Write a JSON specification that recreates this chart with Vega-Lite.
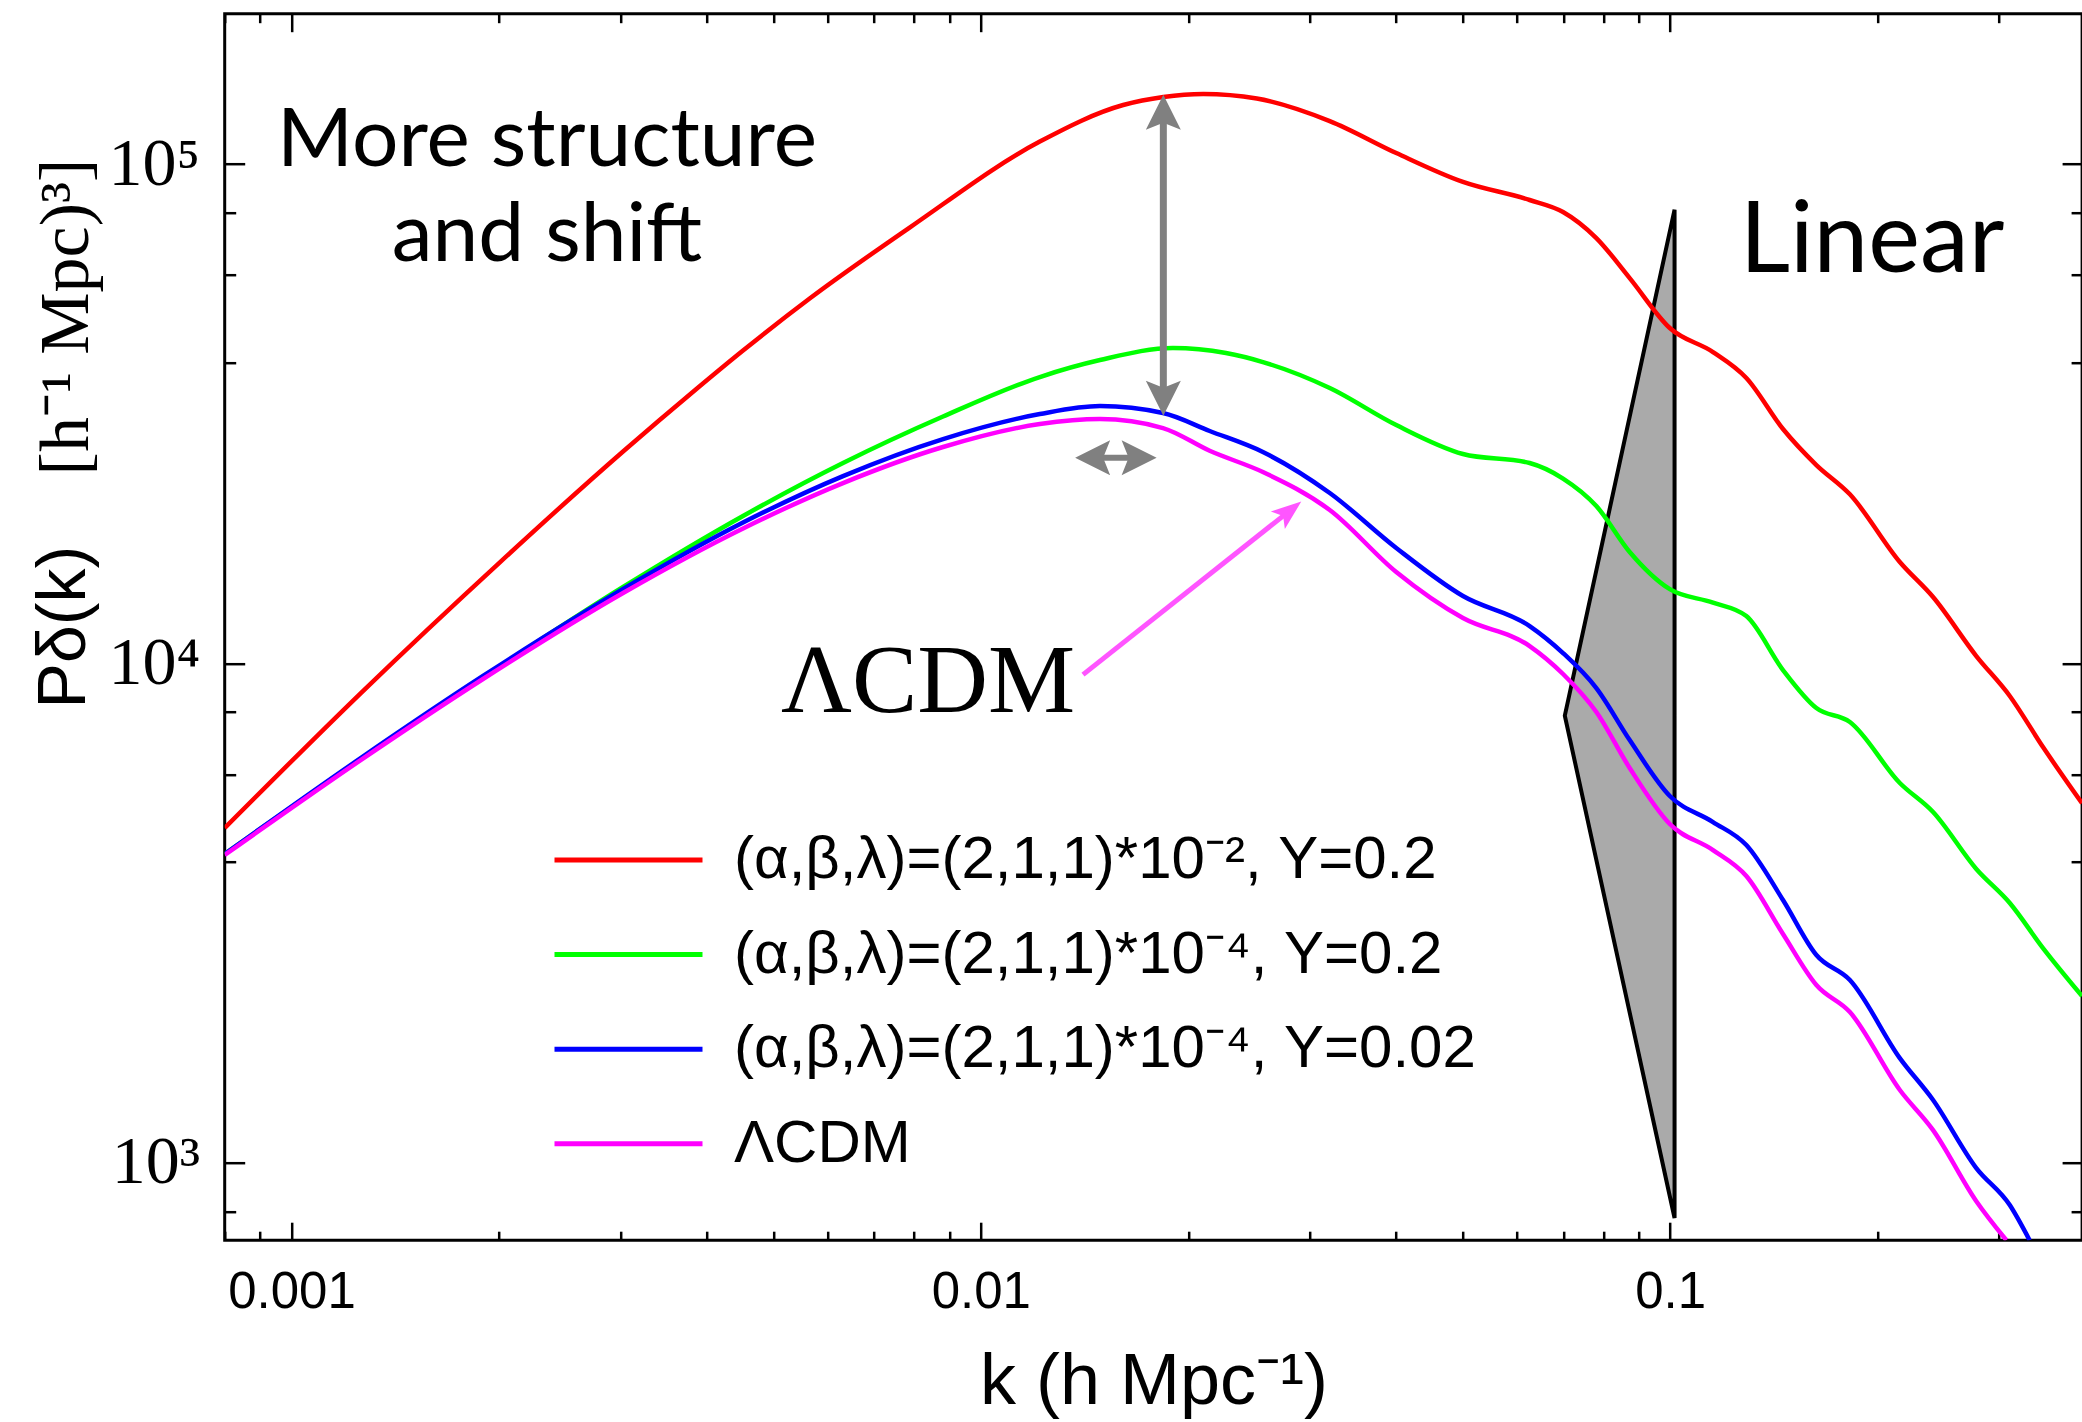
{
  "$schema": "https://vega.github.io/schema/vega-lite/v6.json",
  "width": 1857.4,
  "height": 1226.5,
  "autosize": {"type": "none"},
  "padding": {"left": 224.7, "top": 13.7, "right": 0, "bottom": 181.8},
  "background": "white",
  "config": {
    "font": "Liberation Sans",
    "view": {"stroke": "black", "strokeWidth": 3},
    "axis": {"grid": false, "domain": false, "tickColor": "black", "tickWidth": 2.5, "labelColor": "black", "titleColor": "black"}
  },
  "datasets": {
    "curves": [
      {"k": 0.0008, "P": 4682, "model": "(α,β,λ)=(2,1,1)*10⁻², Y=0.2"},
      {"k": 0.001263, "P": 8744, "model": "(α,β,λ)=(2,1,1)*10⁻², Y=0.2"},
      {"k": 0.002004, "P": 15922, "model": "(α,β,λ)=(2,1,1)*10⁻², Y=0.2"},
      {"k": 0.003027, "P": 26569, "model": "(α,β,λ)=(2,1,1)*10⁻², Y=0.2"},
      {"k": 0.003867, "P": 35441, "model": "(α,β,λ)=(2,1,1)*10⁻², Y=0.2"},
      {"k": 0.004519, "P": 42320, "model": "(α,β,λ)=(2,1,1)*10⁻², Y=0.2"},
      {"k": 0.005646, "P": 53789, "model": "(α,β,λ)=(2,1,1)*10⁻², Y=0.2"},
      {"k": 0.007884, "P": 74606, "model": "(α,β,λ)=(2,1,1)*10⁻², Y=0.2"},
      {"k": 0.01218, "P": 110920, "model": "(α,β,λ)=(2,1,1)*10⁻², Y=0.2"},
      {"k": 0.01609, "P": 131260, "model": "(α,β,λ)=(2,1,1)*10⁻², Y=0.2"},
      {"k": 0.0184, "P": 136220, "model": "(α,β,λ)=(2,1,1)*10⁻², Y=0.2"},
      {"k": 0.02103, "P": 138100, "model": "(α,β,λ)=(2,1,1)*10⁻², Y=0.2"},
      {"k": 0.02514, "P": 135260, "model": "(α,β,λ)=(2,1,1)*10⁻², Y=0.2"},
      {"k": 0.03208, "P": 121910, "model": "(α,β,λ)=(2,1,1)*10⁻², Y=0.2"},
      {"k": 0.04006, "P": 105200, "model": "(α,β,λ)=(2,1,1)*10⁻², Y=0.2"},
      {"k": 0.05006, "P": 92090, "model": "(α,β,λ)=(2,1,1)*10⁻², Y=0.2"},
      {"k": 0.06255, "P": 84720, "model": "(α,β,λ)=(2,1,1)*10⁻², Y=0.2"},
      {"k": 0.06993, "P": 80160, "model": "(α,β,λ)=(2,1,1)*10⁻², Y=0.2"},
      {"k": 0.07816, "P": 71090, "model": "(α,β,λ)=(2,1,1)*10⁻², Y=0.2"},
      {"k": 0.08737, "P": 59110, "model": "(α,β,λ)=(2,1,1)*10⁻², Y=0.2"},
      {"k": 0.0999, "P": 46950, "model": "(α,β,λ)=(2,1,1)*10⁻², Y=0.2"},
      {"k": 0.1154, "P": 42020, "model": "(α,β,λ)=(2,1,1)*10⁻², Y=0.2"},
      {"k": 0.129, "P": 37285, "model": "(α,β,λ)=(2,1,1)*10⁻², Y=0.2"},
      {"k": 0.1458, "P": 29470, "model": "(α,β,λ)=(2,1,1)*10⁻², Y=0.2"},
      {"k": 0.163, "P": 24963, "model": "(α,β,λ)=(2,1,1)*10⁻², Y=0.2"},
      {"k": 0.1823, "P": 21810, "model": "(α,β,λ)=(2,1,1)*10⁻², Y=0.2"},
      {"k": 0.2154, "P": 15959, "model": "(α,β,λ)=(2,1,1)*10⁻², Y=0.2"},
      {"k": 0.2407, "P": 13580, "model": "(α,β,λ)=(2,1,1)*10⁻², Y=0.2"},
      {"k": 0.2781, "P": 10347, "model": "(α,β,λ)=(2,1,1)*10⁻², Y=0.2"},
      {"k": 0.311, "P": 8607, "model": "(α,β,λ)=(2,1,1)*10⁻², Y=0.2"},
      {"k": 0.3475, "P": 6801, "model": "(α,β,λ)=(2,1,1)*10⁻², Y=0.2"},
      {"k": 0.3959, "P": 5248, "model": "(α,β,λ)=(2,1,1)*10⁻², Y=0.2"},

      {"k": 0.0008, "P": 4153, "model": "(α,β,λ)=(2,1,1)*10⁻⁴, Y=0.2"},
      {"k": 0.001263, "P": 6448, "model": "(α,β,λ)=(2,1,1)*10⁻⁴, Y=0.2"},
      {"k": 0.001896, "P": 9372, "model": "(α,β,λ)=(2,1,1)*10⁻⁴, Y=0.2"},
      {"k": 0.003027, "P": 14223, "model": "(α,β,λ)=(2,1,1)*10⁻⁴, Y=0.2"},
      {"k": 0.004519, "P": 19737, "model": "(α,β,λ)=(2,1,1)*10⁻⁴, Y=0.2"},
      {"k": 0.006311, "P": 25198, "model": "(α,β,λ)=(2,1,1)*10⁻⁴, Y=0.2"},
      {"k": 0.008815, "P": 31218, "model": "(α,β,λ)=(2,1,1)*10⁻⁴, Y=0.2"},
      {"k": 0.01218, "P": 37457, "model": "(α,β,λ)=(2,1,1)*10⁻⁴, Y=0.2"},
      {"k": 0.01489, "P": 40504, "model": "(α,β,λ)=(2,1,1)*10⁻⁴, Y=0.2"},
      {"k": 0.019, "P": 42812, "model": "(α,β,λ)=(2,1,1)*10⁻⁴, Y=0.2"},
      {"k": 0.02268, "P": 41830, "model": "(α,β,λ)=(2,1,1)*10⁻⁴, Y=0.2"},
      {"k": 0.02566, "P": 40130, "model": "(α,β,λ)=(2,1,1)*10⁻⁴, Y=0.2"},
      {"k": 0.03208, "P": 35605, "model": "(α,β,λ)=(2,1,1)*10⁻⁴, Y=0.2"},
      {"k": 0.04006, "P": 30013, "model": "(α,β,λ)=(2,1,1)*10⁻⁴, Y=0.2"},
      {"k": 0.05006, "P": 26265, "model": "(α,β,λ)=(2,1,1)*10⁻⁴, Y=0.2"},
      {"k": 0.06255, "P": 25198, "model": "(α,β,λ)=(2,1,1)*10⁻⁴, Y=0.2"},
      {"k": 0.06993, "P": 23456, "model": "(α,β,λ)=(2,1,1)*10⁻⁴, Y=0.2"},
      {"k": 0.07816, "P": 20664, "model": "(α,β,λ)=(2,1,1)*10⁻⁴, Y=0.2"},
      {"k": 0.08737, "P": 16717, "model": "(α,β,λ)=(2,1,1)*10⁻⁴, Y=0.2"},
      {"k": 0.0999, "P": 14081, "model": "(α,β,λ)=(2,1,1)*10⁻⁴, Y=0.2"},
      {"k": 0.1154, "P": 13236, "model": "(α,β,λ)=(2,1,1)*10⁻⁴, Y=0.2"},
      {"k": 0.129, "P": 12440, "model": "(α,β,λ)=(2,1,1)*10⁻⁴, Y=0.2"},
      {"k": 0.1458, "P": 9701, "model": "(α,β,λ)=(2,1,1)*10⁻⁴, Y=0.2"},
      {"k": 0.163, "P": 8141, "model": "(α,β,λ)=(2,1,1)*10⁻⁴, Y=0.2"},
      {"k": 0.1823, "P": 7632, "model": "(α,β,λ)=(2,1,1)*10⁻⁴, Y=0.2"},
      {"k": 0.2154, "P": 5762, "model": "(α,β,λ)=(2,1,1)*10⁻⁴, Y=0.2"},
      {"k": 0.2407, "P": 5040, "model": "(α,β,λ)=(2,1,1)*10⁻⁴, Y=0.2"},
      {"k": 0.2781, "P": 3876, "model": "(α,β,λ)=(2,1,1)*10⁻⁴, Y=0.2"},
      {"k": 0.311, "P": 3313, "model": "(α,β,λ)=(2,1,1)*10⁻⁴, Y=0.2"},
      {"k": 0.3475, "P": 2692, "model": "(α,β,λ)=(2,1,1)*10⁻⁴, Y=0.2"},
      {"k": 0.3959, "P": 2158, "model": "(α,β,λ)=(2,1,1)*10⁻⁴, Y=0.2"},

      {"k": 0.0008, "P": 4153, "model": "(α,β,λ)=(2,1,1)*10⁻⁴, Y=0.02"},
      {"k": 0.001263, "P": 6478, "model": "(α,β,λ)=(2,1,1)*10⁻⁴, Y=0.02"},
      {"k": 0.001896, "P": 9437, "model": "(α,β,λ)=(2,1,1)*10⁻⁴, Y=0.02"},
      {"k": 0.003027, "P": 14093, "model": "(α,β,λ)=(2,1,1)*10⁻⁴, Y=0.02"},
      {"k": 0.004519, "P": 19148, "model": "(α,β,λ)=(2,1,1)*10⁻⁴, Y=0.02"},
      {"k": 0.006311, "P": 23724, "model": "(α,β,λ)=(2,1,1)*10⁻⁴, Y=0.02"},
      {"k": 0.008815, "P": 28141, "model": "(α,β,λ)=(2,1,1)*10⁻⁴, Y=0.02"},
      {"k": 0.01218, "P": 31579, "model": "(α,β,λ)=(2,1,1)*10⁻⁴, Y=0.02"},
      {"k": 0.01489, "P": 32763, "model": "(α,β,λ)=(2,1,1)*10⁻⁴, Y=0.02"},
      {"k": 0.01838, "P": 31723, "model": "(α,β,λ)=(2,1,1)*10⁻⁴, Y=0.02"},
      {"k": 0.02148, "P": 29203, "model": "(α,β,λ)=(2,1,1)*10⁻⁴, Y=0.02"},
      {"k": 0.02566, "P": 26508, "model": "(α,β,λ)=(2,1,1)*10⁻⁴, Y=0.02"},
      {"k": 0.03208, "P": 21941, "model": "(α,β,λ)=(2,1,1)*10⁻⁴, Y=0.02"},
      {"k": 0.04006, "P": 17028, "model": "(α,β,λ)=(2,1,1)*10⁻⁴, Y=0.02"},
      {"k": 0.05006, "P": 13646, "model": "(α,β,λ)=(2,1,1)*10⁻⁴, Y=0.02"},
      {"k": 0.06255, "P": 11882, "model": "(α,β,λ)=(2,1,1)*10⁻⁴, Y=0.02"},
      {"k": 0.06993, "P": 10491, "model": "(α,β,λ)=(2,1,1)*10⁻⁴, Y=0.02"},
      {"k": 0.07816, "P": 8927, "model": "(α,β,λ)=(2,1,1)*10⁻⁴, Y=0.02"},
      {"k": 0.08737, "P": 7024, "model": "(α,β,λ)=(2,1,1)*10⁻⁴, Y=0.02"},
      {"k": 0.0999, "P": 5427, "model": "(α,β,λ)=(2,1,1)*10⁻⁴, Y=0.02"},
      {"k": 0.1154, "P": 4813, "model": "(α,β,λ)=(2,1,1)*10⁻⁴, Y=0.02"},
      {"k": 0.129, "P": 4328, "model": "(α,β,λ)=(2,1,1)*10⁻⁴, Y=0.02"},
      {"k": 0.1458, "P": 3360, "model": "(α,β,λ)=(2,1,1)*10⁻⁴, Y=0.02"},
      {"k": 0.163, "P": 2607, "model": "(α,β,λ)=(2,1,1)*10⁻⁴, Y=0.02"},
      {"k": 0.1823, "P": 2323, "model": "(α,β,λ)=(2,1,1)*10⁻⁴, Y=0.02"},
      {"k": 0.2154, "P": 1621, "model": "(α,β,λ)=(2,1,1)*10⁻⁴, Y=0.02"},
      {"k": 0.2407, "P": 1336, "model": "(α,β,λ)=(2,1,1)*10⁻⁴, Y=0.02"},
      {"k": 0.2781, "P": 976, "model": "(α,β,λ)=(2,1,1)*10⁻⁴, Y=0.02"},
      {"k": 0.311, "P": 823, "model": "(α,β,λ)=(2,1,1)*10⁻⁴, Y=0.02"},
      {"k": 0.3323, "P": 700, "model": "(α,β,λ)=(2,1,1)*10⁻⁴, Y=0.02"},

      {"k": 0.0008, "P": 4134, "model": "ΛCDM"},
      {"k": 0.001263, "P": 6418, "model": "ΛCDM"},
      {"k": 0.001896, "P": 9307, "model": "ΛCDM"},
      {"k": 0.003027, "P": 13836, "model": "ΛCDM"},
      {"k": 0.004519, "P": 18630, "model": "ΛCDM"},
      {"k": 0.006311, "P": 22972, "model": "ΛCDM"},
      {"k": 0.008815, "P": 27123, "model": "ΛCDM"},
      {"k": 0.01218, "P": 30154, "model": "ΛCDM"},
      {"k": 0.01489, "P": 30856, "model": "ΛCDM"},
      {"k": 0.01838, "P": 29602, "model": "ΛCDM"},
      {"k": 0.02148, "P": 26655, "model": "ΛCDM"},
      {"k": 0.02566, "P": 24171, "model": "ΛCDM"},
      {"k": 0.03208, "P": 20290, "model": "ΛCDM"},
      {"k": 0.04006, "P": 15241, "model": "ΛCDM"},
      {"k": 0.05006, "P": 12326, "model": "ΛCDM"},
      {"k": 0.06255, "P": 10834, "model": "ΛCDM"},
      {"k": 0.06993, "P": 9524, "model": "ΛCDM"},
      {"k": 0.07816, "P": 7993, "model": "ΛCDM"},
      {"k": 0.08737, "P": 6174, "model": "ΛCDM"},
      {"k": 0.0999, "P": 4769, "model": "ΛCDM"},
      {"k": 0.1154, "P": 4229, "model": "ΛCDM"},
      {"k": 0.129, "P": 3752, "model": "ΛCDM"},
      {"k": 0.1458, "P": 2872, "model": "ΛCDM"},
      {"k": 0.163, "P": 2270, "model": "ΛCDM"},
      {"k": 0.1823, "P": 2004, "model": "ΛCDM"},
      {"k": 0.2154, "P": 1399, "model": "ΛCDM"},
      {"k": 0.2407, "P": 1163, "model": "ΛCDM"},
      {"k": 0.2781, "P": 838, "model": "ΛCDM"},
      {"k": 0.3075, "P": 700, "model": "ΛCDM"}
    ],
    "wedge": [
      {"k": 0.07035, "P": 7860, "P2": 7860},
      {"k": 0.1015, "P": 81030, "P2": 775.6}
    ],
    "anchor": [{}]
  },
  "layer": [
    {
      "data": {"name": "wedge"},
      "mark": {"type": "area", "orient": "vertical", "fill": "#aaaaaa", "stroke": "black", "strokeWidth": 4, "strokeJoin": "miter", "opacity": 1},
      "encoding": {
        "x": {"field": "k", "type": "quantitative",
          "scale": {"type": "log", "domain": [0.0008, 0.396], "nice": false},
          "axis": {"orient": "top", "title": null, "labels": false,
            "values": [0.0008,0.0009,0.001,0.002,0.003,0.004,0.005,0.006,0.007,0.008,0.009,0.01,0.02,0.03,0.04,0.05,0.06,0.07,0.08,0.09,0.1,0.2,0.3],
            "tickSize": {"condition": {"test": "abs(log(datum.value)/LN10 - round(log(datum.value)/LN10)) < 0.001", "value": -18}, "value": -9}}},
        "y": {"field": "P", "type": "quantitative",
          "scale": {"type": "log", "domain": [700, 200000], "nice": false},
          "axis": {"orient": "right", "title": null, "labels": false,
            "values": [800,1000,4000,6000,8000,10000,40000,60000,80000,100000],
            "tickSize": {"condition": {"test": "abs(log(datum.value)/LN10 - round(log(datum.value)/LN10)) < 0.001", "value": -20}, "value": -11}}},
        "y2": {"field": "P2"}
      }
    },
    {
      "data": {"name": "curves"},
      "mark": {"type": "line", "strokeWidth": 4.5, "interpolate": "monotone", "clip": true},
      "encoding": {
        "x": {"field": "k", "type": "quantitative",
          "scale": {"type": "log", "domain": [0.0008, 0.396], "nice": false},
          "axis": {"orient": "bottom",
            "values": [0.0008,0.0009,0.001,0.002,0.003,0.004,0.005,0.006,0.007,0.008,0.009,0.01,0.02,0.03,0.04,0.05,0.06,0.07,0.08,0.09,0.1,0.2,0.3],
            "tickSize": {"condition": {"test": "abs(log(datum.value)/LN10 - round(log(datum.value)/LN10)) < 0.001", "value": -18}, "value": -9},
            "labelExpr": "datum.value > 0.00095 && datum.value < 0.0015 ? '0.001' : (datum.value > 0.0095 && datum.value < 0.015 ? '0.01' : (datum.value > 0.095 && datum.value < 0.15 ? '0.1' : ''))",
            "labelFont": "Liberation Sans", "labelFontSize": 51, "labelPadding": 45, "labelFlush": false, "labelOverlap": false,
            "title": "k (h Mpc⁻¹)", "titleFont": "Liberation Sans", "titleFontSize": 72, "titleFontWeight": "normal",
            "titleBaseline": "alphabetic", "titleY": 163}},
        "y": {"field": "P", "type": "quantitative",
          "scale": {"type": "log", "domain": [700, 200000], "nice": false},
          "axis": {"orient": "left",
            "values": [800,1000,4000,6000,8000,10000,40000,60000,80000,100000],
            "tickSize": {"condition": {"test": "abs(log(datum.value)/LN10 - round(log(datum.value)/LN10)) < 0.001", "value": -20}, "value": -11},
            "labelExpr": "datum.value == 1000 ? '10³' : (datum.value == 10000 ? '10⁴' : (datum.value == 100000 ? '10⁵' : ''))",
            "labelFont": "Liberation Serif", "labelFontSize": 68, "labelPadding": 45, "labelOverlap": false, "labelFlush": false,
            "title": "Pδ(k)", "titleFont": "Liberation Sans", "titleFontSize": 68, "titleFontWeight": "normal",
            "titleAngle": 270, "titleBaseline": "alphabetic", "titleAlign": "center", "titleX": -140, "titleY": 613}},
        "color": {"field": "model", "type": "nominal",
          "scale": {"domain": ["(α,β,λ)=(2,1,1)*10⁻², Y=0.2", "(α,β,λ)=(2,1,1)*10⁻⁴, Y=0.2", "(α,β,λ)=(2,1,1)*10⁻⁴, Y=0.02", "ΛCDM"],
                    "range": ["#ff0000", "#00ff00", "#0000ff", "#ff00ff"]},
          "legend": {"orient": "none", "legendX": 327.3, "legendY": 816.3, "title": null,
            "symbolType": "stroke", "symbolSize": 21904, "symbolStrokeWidth": 5, "symbolOpacity": 1,
            "labelFont": "Liberation Sans", "labelFontSize": 60, "labelColor": "black", "labelOffset": 29, "labelLimit": 1500,
            "rowPadding": 34.6, "clipHeight": 60, "padding": 0}}
      }
    },
    {
      "data": {"name": "anchor"},
      "mark": {"type": "rule", "color": "#808080", "strokeWidth": 7},
      "encoding": {
        "x": {"datum": 0.0184, "type": "quantitative", "scale": {"type": "log", "domain": [0.0008, 0.396], "nice": false}, "axis": null},
        "y": {"datum": 126950, "type": "quantitative", "scale": {"type": "log", "domain": [700, 200000], "nice": false}, "axis": null},
        "y2": {"datum": 33950}
      }
    },
    {
      "data": {"name": "anchor"},
      "mark": {"type": "point", "shape": "M0,-1L1,1L0,0.6L-1,1Z", "filled": true, "color": "#808080", "opacity": 1, "size": 1225, "angle": 0, "strokeWidth": 0},
      "encoding": {
        "x": {"datum": 0.0184, "type": "quantitative", "scale": {"type": "log", "domain": [0.0008, 0.396], "nice": false}, "axis": null},
        "y": {"datum": 126950, "type": "quantitative", "scale": {"type": "log", "domain": [700, 200000], "nice": false}, "axis": null}
      }
    },
    {
      "data": {"name": "anchor"},
      "mark": {"type": "point", "shape": "M0,-1L1,1L0,0.6L-1,1Z", "filled": true, "color": "#808080", "opacity": 1, "size": 1225, "angle": 180, "strokeWidth": 0},
      "encoding": {
        "x": {"datum": 0.0184, "type": "quantitative", "scale": {"type": "log", "domain": [0.0008, 0.396], "nice": false}, "axis": null},
        "y": {"datum": 33950, "type": "quantitative", "scale": {"type": "log", "domain": [700, 200000], "nice": false}, "axis": null}
      }
    },
    {
      "data": {"name": "anchor"},
      "mark": {"type": "rule", "color": "#808080", "strokeWidth": 6},
      "encoding": {
        "x": {"datum": 0.01453, "type": "quantitative", "scale": {"type": "log", "domain": [0.0008, 0.396], "nice": false}, "axis": null},
        "x2": {"datum": 0.01697},
        "y": {"datum": 25820, "type": "quantitative", "scale": {"type": "log", "domain": [700, 200000], "nice": false}, "axis": null}
      }
    },
    {
      "data": {"name": "anchor"},
      "mark": {"type": "point", "shape": "M0,-1L1,1L0,0.6L-1,1Z", "filled": true, "color": "#808080", "opacity": 1, "size": 1225, "angle": 270, "strokeWidth": 0},
      "encoding": {
        "x": {"datum": 0.01453, "type": "quantitative", "scale": {"type": "log", "domain": [0.0008, 0.396], "nice": false}, "axis": null},
        "y": {"datum": 25820, "type": "quantitative", "scale": {"type": "log", "domain": [700, 200000], "nice": false}, "axis": null}
      }
    },
    {
      "data": {"name": "anchor"},
      "mark": {"type": "point", "shape": "M0,-1L1,1L0,0.6L-1,1Z", "filled": true, "color": "#808080", "opacity": 1, "size": 1225, "angle": 90, "strokeWidth": 0},
      "encoding": {
        "x": {"datum": 0.01697, "type": "quantitative", "scale": {"type": "log", "domain": [0.0008, 0.396], "nice": false}, "axis": null},
        "y": {"datum": 25820, "type": "quantitative", "scale": {"type": "log", "domain": [700, 200000], "nice": false}, "axis": null}
      }
    },
    {
      "data": {"name": "anchor"},
      "mark": {"type": "rule", "color": "#ff55ff", "strokeWidth": 5},
      "encoding": {
        "x": {"datum": 0.01407, "type": "quantitative", "scale": {"type": "log", "domain": [0.0008, 0.396], "nice": false}, "axis": null},
        "x2": {"datum": 0.02805},
        "y": {"datum": 9497, "type": "quantitative", "scale": {"type": "log", "domain": [700, 200000], "nice": false}, "axis": null},
        "y2": {"datum": 20205}
      }
    },
    {
      "data": {"name": "anchor"},
      "mark": {"type": "point", "shape": "M0,-1L0.75,1L0,0.55L-0.75,1Z", "filled": true, "color": "#ff55ff", "opacity": 1, "size": 900, "angle": 51.4, "strokeWidth": 0},
      "encoding": {
        "x": {"datum": 0.02805, "type": "quantitative", "scale": {"type": "log", "domain": [0.0008, 0.396], "nice": false}, "axis": null},
        "y": {"datum": 20205, "type": "quantitative", "scale": {"type": "log", "domain": [700, 200000], "nice": false}, "axis": null}
      }
    },
    {
      "data": {"name": "anchor"},
      "mark": {"type": "text", "text": ["More structure", "and shift"], "font": "Lato", "fontSize": 82, "align": "center", "baseline": "alphabetic", "lineHeight": 95, "color": "black"},
      "encoding": {
        "x": {"datum": 0.002348, "type": "quantitative", "scale": {"type": "log", "domain": [0.0008, 0.396], "nice": false}, "axis": null},
        "y": {"datum": 99080, "type": "quantitative", "scale": {"type": "log", "domain": [700, 200000], "nice": false}, "axis": null}
      }
    },
    {
      "data": {"name": "anchor"},
      "mark": {"type": "text", "text": "Linear", "font": "Lato", "fontSize": 98, "align": "center", "baseline": "alphabetic", "color": "black"},
      "encoding": {
        "x": {"datum": 0.1963, "type": "quantitative", "scale": {"type": "log", "domain": [0.0008, 0.396], "nice": false}, "axis": null},
        "y": {"datum": 60870, "type": "quantitative", "scale": {"type": "log", "domain": [700, 200000], "nice": false}, "axis": null}
      }
    },
    {
      "data": {"name": "anchor"},
      "mark": {"type": "text", "text": "ΛCDM", "font": "Liberation Serif", "fontSize": 98, "align": "center", "baseline": "alphabetic", "color": "black"},
      "encoding": {
        "x": {"datum": 0.008384, "type": "quantitative", "scale": {"type": "log", "domain": [0.0008, 0.396], "nice": false}, "axis": null},
        "y": {"datum": 8004, "type": "quantitative", "scale": {"type": "log", "domain": [700, 200000], "nice": false}, "axis": null}
      }
    },
    {
      "data": {"name": "anchor"},
      "mark": {"type": "text", "text": "[h⁻¹  Mpc)³]", "font": "Liberation Serif", "fontSize": 70, "align": "center", "baseline": "alphabetic", "angle": 270, "color": "black"},
      "encoding": {
        "x": {"datum": 0.000507, "type": "quantitative", "scale": {"type": "log", "domain": [0.0008, 0.396], "nice": false}, "axis": null},
        "y": {"datum": 49380, "type": "quantitative", "scale": {"type": "log", "domain": [700, 200000], "nice": false}, "axis": null}
      }
    }
  ],
  "resolve": {"axis": {"x": "independent", "y": "independent"}}
}
